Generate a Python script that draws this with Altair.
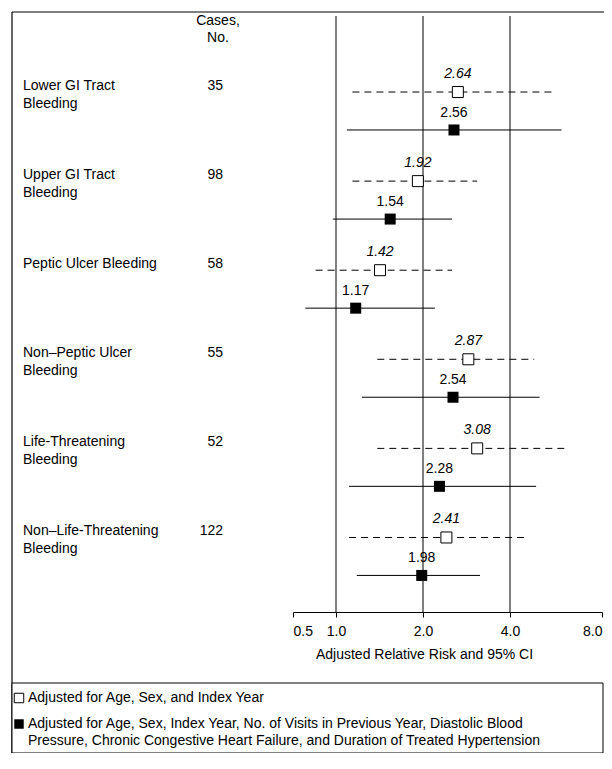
import altair as alt
import pandas as pd

# ---- data ----
categories = [
    "Lower GI Tract\nBleeding",
    "Upper GI Tract\nBleeding",
    "Peptic Ulcer Bleeding",
    "Non\u2013Peptic Ulcer\nBleeding",
    "Life-Threatening\nBleeding",
    "Non\u2013Life-Threatening\nBleeding",
]
cases = [35, 98, 58, 55, 52, 122]

# Adjusted for age, sex and index year (open squares, dashed CI)
rr_basic = [2.64, 1.92, 1.42, 2.87, 3.08, 2.41]
lo_basic = [1.14, 1.14, 0.72, 1.39, 1.39, 1.11]
hi_basic = [5.50, 3.08, 2.52, 4.80, 6.15, 4.54]

# Fully adjusted (filled squares, solid CI)
rr_full = [2.56, 1.54, 1.17, 2.54, 2.28, 1.98]
lo_full = [1.09, 0.95, 0.61, 1.23, 1.11, 1.18]
hi_full = [5.90, 2.52, 2.20, 5.00, 4.87, 3.15]

tick_values = [0.5, 1, 2, 4, 8]
ref_lines = [1, 2, 4]

legend_basic = "Adjusted for Age, Sex, and Index Year"
legend_full_1 = "Adjusted for Age, Sex, Index Year, No. of Visits in Previous Year, Diastolic Blood"
legend_full_2 = "Pressure, Chronic Congestive Heart Failure, and Duration of Treated Hypertension"
x_title = "Adjusted Relative Risk and 95% CI"
cases_header = "Cases,\nNo."

# ---- tables ----
basic = pd.DataFrame({"cat": categories, "rr": rr_basic, "lo": lo_basic, "hi": hi_basic,
                      "lab": [f"{v:.2f}" for v in rr_basic]})
full = pd.DataFrame({"cat": categories, "rr": rr_full, "lo": lo_full, "hi": hi_full,
                     "lab": [f"{v:.2f}" for v in rr_full]})
rows = pd.DataFrame({"cat": categories, "cases": [str(c) for c in cases]})
grid = pd.DataFrame({"g": ref_lines})
one = pd.DataFrame({"a": [0]})

FONT = "Liberation Sans"
POS_OPEN = 0.287
POS_FULL = 0.713

xscale = alt.Scale(type="log", domain=[0.5, 1, 4, 8], range=[0, 43, 217, 309], nice=False)
xaxis = alt.Axis(values=tick_values, format=".1f", title=x_title, grid=False,
                 domainColor="black", domainWidth=1, tickColor="black", tickSize=5,
                 labelColor="black", labelFont=FONT, labelFontSize=14, labelPadding=7,
                 titleFont=FONT, titleFontSize=14, titleFontWeight="normal", titleColor="black",
                 titleX=131, titlePadding=9)
yscale = alt.Scale(domain=categories, range=[54.45, 589], paddingInner=0, paddingOuter=0)


def X(field):
    return alt.X(field, type="quantitative", scale=xscale, axis=xaxis)


def Y(pos):
    return alt.Y("cat:N", scale=yscale, axis=None, bandPosition=pos)


# frame
frame_top = alt.Chart(one).mark_rule(color="black", strokeWidth=1.2).encode(
    x=alt.value(-281), x2=alt.value(311), y=alt.value(0))
frame_left = alt.Chart(one).mark_rule(color="black", strokeWidth=1.2).encode(
    x=alt.value(-281), y=alt.value(0), y2=alt.value(741))

# reference lines
gridlines = alt.Chart(grid).mark_rule(color="black", strokeWidth=1).encode(
    x=X("g"), y=alt.value(4), y2=alt.value(600))

ci_basic = alt.Chart(basic).mark_rule(color="black", strokeWidth=1, strokeDash=[7, 5]).encode(
    x=X("lo"), x2="hi", y=Y(POS_OPEN))
ci_full = alt.Chart(full).mark_rule(color="black", strokeWidth=1).encode(
    x=X("lo"), x2="hi", y=Y(POS_FULL))

pt_basic = alt.Chart(basic).mark_point(shape="square", size=121, filled=True, fill="white",
                                       stroke="black", strokeWidth=1, opacity=1).encode(
    x=X("rr"), y=Y(POS_OPEN))
pt_full = alt.Chart(full).mark_point(shape="square", size=121, filled=True, color="black",
                                     opacity=1).encode(
    x=X("rr"), y=Y(POS_FULL))

lab_basic = alt.Chart(basic).mark_text(font=FONT, fontSize=14, fontStyle="italic", color="black",
                                       baseline="alphabetic", dy=-14).encode(
    x=X("rr"), y=Y(POS_OPEN), text="lab:N")
lab_full = alt.Chart(full).mark_text(font=FONT, fontSize=14, color="black",
                                     baseline="alphabetic", dy=-13).encode(
    x=X("rr"), y=Y(POS_FULL), text="lab:N")

cat_text = alt.Chart(rows).mark_text(font=FONT, fontSize=14, color="black", align="left",
                                     baseline="alphabetic", dy=-2, lineBreak="\n",
                                     lineHeight=18).encode(
    x=alt.value(-270), y=Y(POS_OPEN), text="cat:N")
cases_text = alt.Chart(rows).mark_text(font=FONT, fontSize=14, color="black", align="right",
                                       baseline="alphabetic", dy=-2).encode(
    x=alt.value(-70), y=Y(POS_OPEN), text="cases:N")
header = alt.Chart(one).mark_text(font=FONT, fontSize=14, color="black", align="center",
                                  baseline="alphabetic", lineBreak="\n", lineHeight=17,
                                  text=cases_header).encode(
    x=alt.value(-75), y=alt.value(13))

# legend box
leg_box = alt.Chart(one).mark_rect(fill="white", stroke="black", strokeWidth=1).encode(
    x=alt.value(-281), x2=alt.value(310), y=alt.value(671), y2=alt.value(741))
leg_sq1 = alt.Chart(one).mark_point(shape="square", size=90, filled=True, fill="white",
                                    stroke="black", strokeWidth=1, opacity=1).encode(
    x=alt.value(-274), y=alt.value(686))
leg_sq2 = alt.Chart(one).mark_point(shape="square", size=90, filled=True, color="black",
                                    opacity=1).encode(
    x=alt.value(-274), y=alt.value(712))
leg_t1 = alt.Chart(one).mark_text(font=FONT, fontSize=14, color="black", align="left",
                                  baseline="middle", text=legend_basic).encode(
    x=alt.value(-265), y=alt.value(686))
leg_t2 = alt.Chart(one).mark_text(font=FONT, fontSize=14, color="black", align="left",
                                  baseline="middle", text=legend_full_1).encode(
    x=alt.value(-265), y=alt.value(712))
leg_t3 = alt.Chart(one).mark_text(font=FONT, fontSize=14, color="black", align="left",
                                  baseline="middle", text=legend_full_2).encode(
    x=alt.value(-265), y=alt.value(729))

chart = alt.layer(
    frame_top, frame_left, gridlines, ci_basic, ci_full, pt_basic, pt_full,
    lab_basic, lab_full, cat_text, cases_text, header,
    leg_box, leg_sq1, leg_sq2, leg_t1, leg_t2, leg_t3,
).properties(
    width=309, height=600,
    autosize=alt.AutoSizeParams(type="none"),
    padding={"left": 285, "top": 4, "right": 2, "bottom": 141},
).configure(font=FONT).configure_view(stroke=None)

chart.save("out.html", embed_options={"renderer": "svg", "actions": False})
